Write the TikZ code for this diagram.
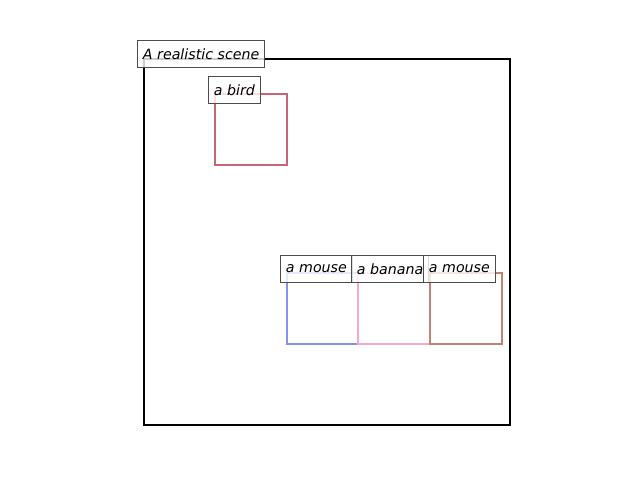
\documentclass[tikz,border=0pt]{standalone}
\usepackage{fontspec}
\setmainfont{DejaVu Sans}
\definecolor{birdred}{RGB}{196,102,118}
\definecolor{mouseblue}{RGB}{134,146,242}
\definecolor{bananapink}{RGB}{242,170,208}
\definecolor{mousebrown}{RGB}{190,130,118}
\tikzset{
    tag/.style={draw=black!70, fill=white, fill opacity=0.8, text opacity=1, line width=0.7pt,
        inner xsep=3.9pt, inner ysep=0pt, minimum height=19.6pt, anchor=west,
        font=\fontsize{10.1}{12}\selectfont\itshape},
    box/.style={line width=1.9pt}
}
\begin{document}
\begin{tikzpicture}[x=0.025cm, y=-0.025cm]
            \useasboundingbox (0, 0) rectangle (640, 480);
            \draw[box, black, line width=1.6pt] (144, 59) rectangle (510, 425);
            \draw[box, birdred] (215, 94) rectangle (287, 165);
            \draw[box, mouseblue] (287, 273) rectangle (358, 344);
            \draw[box, bananapink] (358, 273) rectangle (430, 344);
            \draw[box, mousebrown] (430, 273) rectangle (502, 344);
            \node[tag] (scene) at (137, 54) {A realistic scene};
            \node[tag] (bird) at (208, 90) {a bird};
            \node[tag] (mouseA) at (280, 269) {a mouse};
            \node[tag] (banana) at (351, 269) {a banana};
            \node[tag] (mouseB) at (423, 269) {a mouse};
        \end{tikzpicture}
\end{document}
